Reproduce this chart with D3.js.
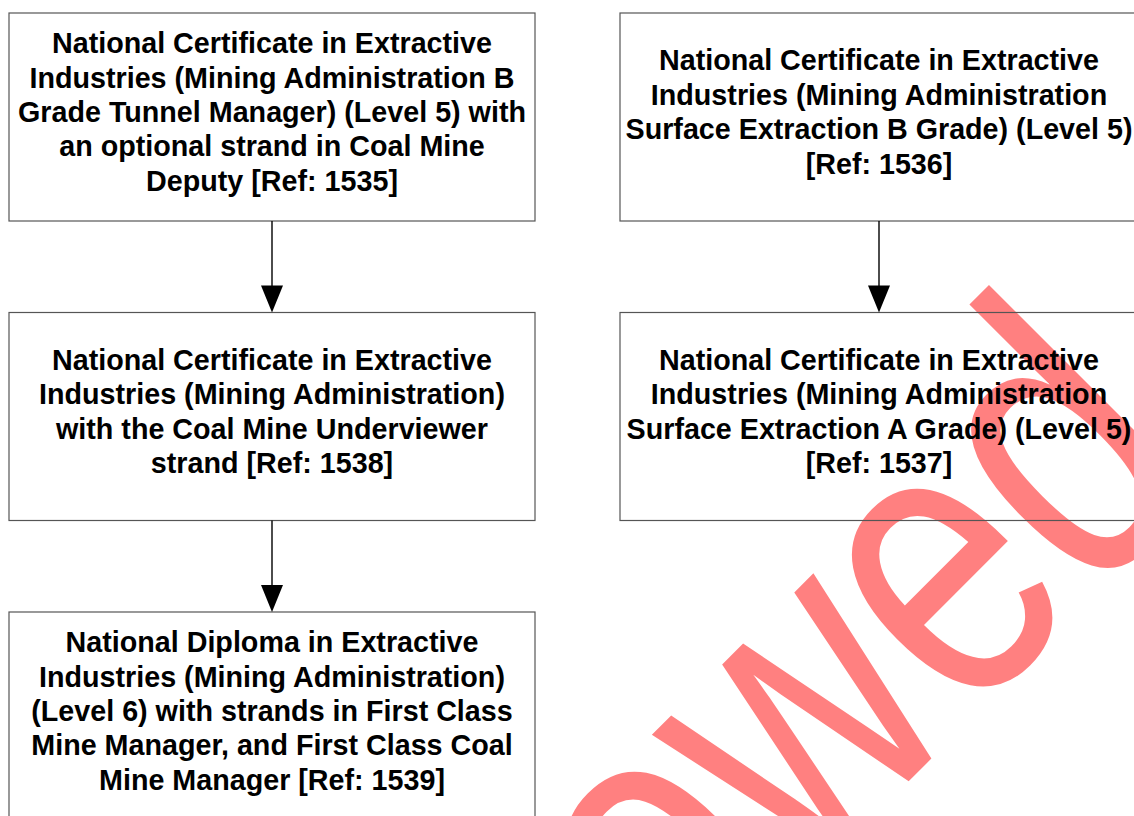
<!DOCTYPE html>
<html>
<head>
<meta charset="utf-8">
<script src="https://cdn.jsdelivr.net/npm/d3@7"></script>
<style>
  html, body { margin: 0; padding: 0; background: #fff; overflow: hidden; }
  .box { fill: none; stroke: #555; stroke-width: 1.2; }
  .label { font-family: "Liberation Sans", Arial, sans-serif; font-weight: bold; font-size: 28.7px; fill: #000; }
  .link { stroke: #000; stroke-width: 1.4; fill: none; }
  .head { fill: #000; }
  .mark { font-family: "Liberation Sans", Arial, sans-serif; font-size: 406px; fill: #ff8080; }
</style>
</head>
<body>
<div id="chart"></div>
<script>

// qualification boxes, one label (split into lines) per box
const nodeLabels = [
    ["National Certificate in Extractive", "Industries (Mining Administration B", "Grade Tunnel Manager) (Level 5) with", "an optional strand in Coal Mine", "Deputy [Ref: 1535]"],
    ["National Certificate in Extractive", "Industries (Mining Administration)", "with the Coal Mine Underviewer", "strand [Ref: 1538]"],
    ["National Diploma in Extractive", "Industries (Mining Administration)", "(Level 6) with strands in First Class", "Mine Manager, and First Class Coal", "Mine Manager [Ref: 1539]"],
    ["National Certificate in Extractive", "Industries (Mining Administration", "Surface Extraction B Grade) (Level 5)", "[Ref: 1536]"],
    ["National Certificate in Extractive", "Industries (Mining Administration", "Surface Extraction A Grade) (Level 5)", "[Ref: 1537]"]
];
const nodeCols = [0, 0, 0, 1, 1];
const nodeRows = [0, 1, 2, 0, 1];

// progression arrows: [from, to]
const links = [[0, 1], [1, 2], [3, 4]];

const watermarkText = "Not Allowed";

const svgWidth = 1134;
const svgHeight = 816;
const boxHeight = 208;
const lineHeight = 34.4;

const svg = d3.select('#chart')
    .append('svg')
    .attr('width', svgWidth)
    .attr('height', svgHeight);

const colX = d3.scaleOrdinal().domain([0, 1]).range([9, 620]);
const colW = d3.scaleOrdinal().domain([0, 1]).range([526, 518]);
const rowY = d3.scaleLinear().domain([0, 1]).range([13, 312.5]);

const nodes = nodeLabels.map((lines, i) => ({
    lines: lines,
    x: colX(nodeCols[i]),
    w: colW(nodeCols[i]),
    y: rowY(nodeRows[i])
}));

// watermark sits behind everything (narrowed letters, rotated 45deg)
svg.append("text")
    .attr("class", "mark")
    .attr("text-anchor", "end")
    .attr("transform", "translate(1212,478) rotate(-45) scale(0.775,1)")
    .text(watermarkText);

const g = svg.append("g");

const box = g.selectAll(".node")
    .data(nodes)
    .enter().append("g")
    .attr("class", "node")
    .attr("transform", d => "translate(" + d.x + "," + d.y + ")");

box.append("rect")
    .attr("class", "box")
    .attr("width", d => d.w)
    .attr("height", boxHeight);

box.append("text")
    .attr("class", "label")
    .attr("text-anchor", "middle")
    .selectAll("tspan")
    .data(d => d.lines.map((t, i) => ({ t: t, i: i, n: d.lines.length, cx: d.w / 2 })))
    .enter().append("tspan")
    .attr("x", d => d.cx)
    .attr("y", d => boxHeight / 2 - 5 + (d.i - (d.n - 1) / 2) * lineHeight + 10)
    .text(d => d.t);

const headLen = 27;
const headHalf = 11;

g.selectAll(".link")
    .data(links)
    .enter().append("line")
    .attr("class", "link")
    .attr("x1", d => nodes[d[0]].x + nodes[d[0]].w / 2)
    .attr("x2", d => nodes[d[1]].x + nodes[d[1]].w / 2)
    .attr("y1", d => nodes[d[0]].y + boxHeight)
    .attr("y2", d => nodes[d[1]].y - headLen + 1);

g.selectAll(".head")
    .data(links)
    .enter().append("path")
    .attr("class", "head")
    .attr("d", d => {
        const cx = nodes[d[1]].x + nodes[d[1]].w / 2;
        const ty = nodes[d[1]].y;
        return "M" + cx + "," + ty + "L" + (cx - headHalf) + "," + (ty - headLen) + "L" + (cx + headHalf) + "," + (ty - headLen) + "Z";
    });

</script>
</body>
</html>
